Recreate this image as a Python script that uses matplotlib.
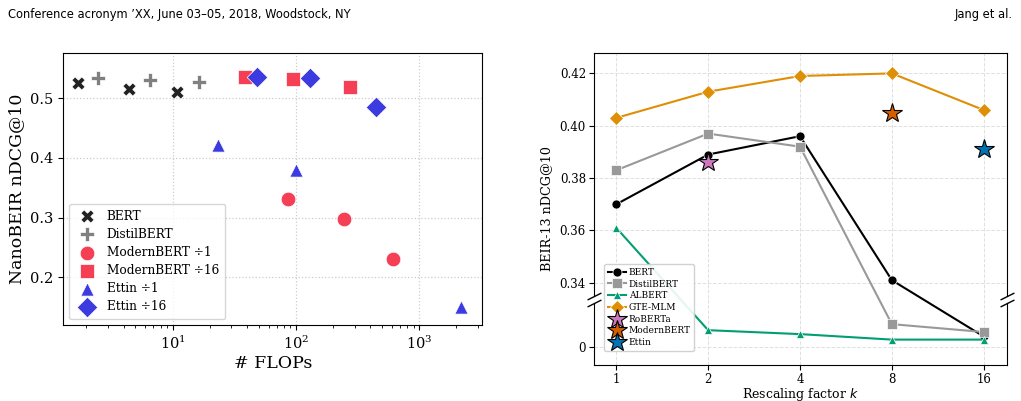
import matplotlib
matplotlib.use("Agg")
import matplotlib.pyplot as plt
import numpy as np
from matplotlib.ticker import FixedLocator, NullLocator, FuncFormatter

plt.rcParams['font.family'] = ['DejaVu Serif']

# left panel data (FLOPs, NanoBEIR nDCG@10)
bert_flops = [1.70, 4.42, 10.8]
bert_ndcg = [0.525, 0.515, 0.510]
distil_flops = [2.49, 6.5, 16.4]
distil_ndcg = [0.5345, 0.531, 0.528]
mb1_flops = [85.7, 244, 608]
mb1_ndcg = [0.332, 0.297, 0.231]
mb16_flops = [38.5, 95, 273]
mb16_ndcg = [0.536, 0.532, 0.519]
ett1_flops = [23.4, 101, 2163]
ett1_ndcg = [0.421, 0.380, 0.151]
ett16_flops = [48, 130, 448]
ett16_ndcg = [0.535, 0.5345, 0.485]

# right panel data (rescaling factor k, BEIR-13 nDCG@10)
k = [1, 2, 4, 8, 16]
bert_k = [0.370, 0.389, 0.396, 0.341, 0.0040]
distil_k = [0.383, 0.397, 0.392, 0.0087, 0.0057]
albert_k = [0.361, 0.0064, 0.0049, 0.0028, 0.0028]
gte_k = [0.403, 0.413, 0.419, 0.420, 0.406]
roberta_pt = (2, 0.386)
modernbert_pt = (8, 0.405)
ettin_pt = (16, 0.391)

fig = plt.figure(figsize=(10.21, 4.01), dpi=100)

# header
hfont = ['Liberation Sans Narrow', 'DejaVu Sans']
fig.text(0.008, 0.965, "Conference acronym \u2019XX, June 03\u201305, 2018, Woodstock, NY",
         family=hfont, fontsize=8.3, va='center')
fig.text(0.992, 0.965, "Jang et al.", family=hfont, fontsize=8.3, va='center', ha='right')

# ---- left panel
ax = fig.add_axes([63.3/1021, 1-325/401, (482.3-63.3)/1021, (325-53.3)/401])
red = '#F43F55'
blue = '#3B3BE0'
ax.scatter(bert_flops, bert_ndcg, marker='X', s=90, color='#222222', edgecolor='white', linewidth=0.5, label='BERT', zorder=3)
ax.scatter(distil_flops, distil_ndcg, marker='P', s=90, color='#808080', edgecolor='white', linewidth=0.5, label='DistilBERT', zorder=3)
ax.scatter(mb1_flops, mb1_ndcg, marker='o', s=110, color=red, edgecolor='white', linewidth=0.5, label='ModernBERT \u00f71', zorder=3)
ax.scatter(mb16_flops, mb16_ndcg, marker='s', s=110, color=red, edgecolor='white', linewidth=0.5, label='ModernBERT \u00f716', zorder=3)
ax.scatter(ett1_flops, ett1_ndcg, marker='^', s=90, color=blue, edgecolor='white', linewidth=0.5, label='Ettin \u00f71', zorder=3)
ax.scatter(ett16_flops, ett16_ndcg, marker='D', s=110, color=blue, edgecolor='white', linewidth=0.5, label='Ettin \u00f716', zorder=3)
ax.set_xscale('log')
ax.set_xlim(1.30, 3245)
ax.set_ylim(0.12, 0.5754)
ax.set_yticks([0.2, 0.3, 0.4, 0.5])
ax.tick_params(labelsize=10.5)
ax.grid(True, linestyle=':', color='#cccccc', linewidth=0.9)
ax.set_axisbelow(True)
ax.set_xlabel('# FLOPs', fontsize=12.5, labelpad=2)
ax.set_ylabel('NanoBEIR nDCG@10', fontsize=12.5)
ax.legend(loc='lower left', fontsize=8.7, frameon=True, borderpad=0.5, handletextpad=0.6,
          labelspacing=0.42, borderaxespad=0.5)

# ---- right panel: single axis with a broken (piecewise) y scale
T = 0.333      # values above this are drawn as-is
C = 0.0166     # values below this sit in the lower strip
BASE = 0.3155  # where 0 lands
SLOPE = (T - BASE - C) / (T - C)


def fwd(y):
    y = np.asarray(y, dtype=float)
    return np.where(y >= T, y, np.where(y <= C, BASE + y, BASE + C + (y - C) * SLOPE))


def inv(v):
    v = np.asarray(v, dtype=float)
    lo = BASE + C
    return np.where(v >= T, v, np.where(v <= lo, v - BASE, C + (v - lo) / SLOPE))


colors = {'bert': 'black', 'distil': '#999999', 'albert': '#029E73', 'gte': '#DE8F05',
          'roberta': '#CC78BC', 'modern': '#D55E00', 'ettin': '#0173B2'}
ar = fig.add_axes([594.3/1021, 1-365/401, (1006.7-594.3)/1021, (365-52.7)/401])
ar.set_yscale('function', functions=(fwd, inv))
h1, = ar.plot(k, bert_k, '-o', color=colors['bert'], ms=6.5, mec='white', mew=0.5, lw=1.5, label='BERT')
h2, = ar.plot(k, distil_k, '-s', color=colors['distil'], ms=6.5, mec='white', mew=0.5, lw=1.5, label='DistilBERT')
h3, = ar.plot(k, albert_k, '-^', color=colors['albert'], ms=6, mec='white', mew=0.5, lw=1.5, label='ALBERT')
h4, = ar.plot(k, gte_k, '-D', color=colors['gte'], ms=7, mec='white', mew=0.5, lw=1.5, label='GTE-MLM')
h5, = ar.plot(*roberta_pt, '*', color=colors['roberta'], ms=15, mec='black', mew=0.8, label='RoBERTa', zorder=4)
h6, = ar.plot(*modernbert_pt, '*', color=colors['modern'], ms=15, mec='black', mew=0.8, label='ModernBERT', zorder=4)
h7, = ar.plot(*ettin_pt, '*', color=colors['ettin'], ms=15, mec='black', mew=0.8, label='Ettin', zorder=4)
handles = [h1, h2, h3, h4, h5, h6, h7]

ar.set_xscale('log', base=2)
ar.set_xlim(0.847, 19.03)
ar.xaxis.set_major_locator(FixedLocator(k))
ar.xaxis.set_minor_locator(NullLocator())
ar.set_xticklabels([str(v) for v in k])
ar.set_ylim(-0.0069, 0.4279)
ar.yaxis.set_major_locator(FixedLocator([0, 0.34, 0.36, 0.38, 0.40, 0.42]))
ar.yaxis.set_minor_locator(NullLocator())
ar.yaxis.set_major_formatter(FuncFormatter(lambda v, p: '0' if abs(v) < 1e-9 else f"{v:.2f}"))
ar.grid(True, linestyle='--', color='#e0e0e0', linewidth=0.7)
ar.set_axisbelow(True)
ar.tick_params(labelsize=8.5, pad=2.5)
ar.set_xlabel('Rescaling factor $k$', fontsize=9, labelpad=-0.5)

# spines with a gap and break marks
gap_top = (365 - 296) / 312.3
gap_bot = (365 - 303.3) / 312.3
for side in ('left', 'right'):
    ar.spines[side].set_visible(False)
for xs in (0, 1):
    ar.plot([xs, xs], [gap_top, 1], transform=ar.transAxes, color='black', lw=0.8, clip_on=False)
    ar.plot([xs, xs], [0, gap_bot], transform=ar.transAxes, color='black', lw=0.8, clip_on=False)
d = 0.5
kw = dict(marker=[(-1, -d), (1, d)], markersize=10, linestyle='none', color='k', mec='k', mew=1, clip_on=False)
ar.plot([0, 1], [gap_top, gap_top], transform=ar.transAxes, **kw)
ar.plot([0, 1], [gap_bot, gap_bot], transform=ar.transAxes, **kw)

fig.text(547/1021, 1-209/401, 'BEIR-13 nDCG@10', rotation=90, va='center', ha='center', fontsize=9.2)

fig.legend(handles=handles, loc='lower left', bbox_to_anchor=(604.3/1021, (401-350.7)/401),
           fontsize=6.5, frameon=True, borderpad=0.4, handletextpad=0.3, handlelength=2.0,
           labelspacing=0.3, framealpha=0.9, borderaxespad=0)

fig.savefig('out.png', dpi=100)
